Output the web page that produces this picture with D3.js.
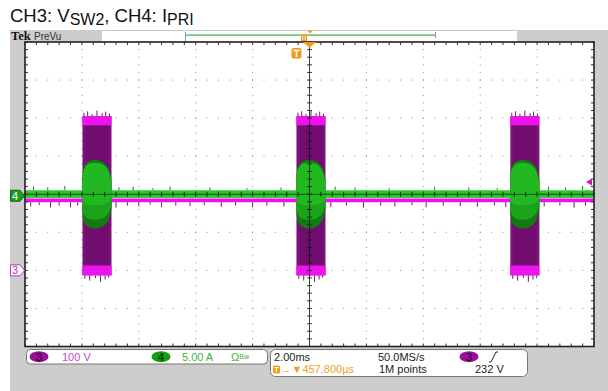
<!DOCTYPE html>
<html>
<head>
<meta charset="utf-8">
<script src="https://cdn.jsdelivr.net/npm/d3@7"></script>
<style>
  body { margin: 0; background: #fff; }
  svg { display: block; font-family: "Liberation Sans", Arial, sans-serif; }
</style>
</head>
<body>
<div id="scope"></div>
<script>
// CH3 = V_SW2 (100 V/div, ground 2 div below centre), CH4 = I_PRI (5 A/div, ground at centre)
// time base 2.00 ms/div, 10 div wide, trigger delay 457.8 us
var burstStart = [-7.98, -0.458, 7.06];        // ms
var burstLen = 1.02;                            // ms
var vHighBand = [381, 405];                     // V  switching top level
var vLowBand = [-13, 13];                       // V  switching bottom level
var vIdleBand = [179, 189];                     // V  idle mid level
var iIdleBand = [-0.48, 0.52];                  // A
var envPos = [0, 0.03, 0.1, 0.22, 0.38, 0.55, 0.7, 0.82, 0.92, 1];
var envAmp = [2.2, 3.0, 3.6, 4.0, 4.15, 4.1, 3.9, 3.5, 2.8, 1.6];   // A, current envelope in a burst
var vIdleSpikes = [[-9.8,168],[-9.5,172],[-9.1,165],[-8.8,170],[-8.4,166],[-8.15,171],
  [-6.8,165],[-6.4,170],[-6.0,168],[-5.6,173],[-5.2,166],[-4.7,170],[-4.2,169],[-3.7,172],
  [-3.1,167],[-2.6,171],[-2.0,166],[-1.5,170],[-0.9,168],[0.75,166],[1.3,171],[1.9,165],
  [2.5,170],[3.0,168],[3.6,172],[4.1,166],[4.7,170],[5.3,169],[5.9,167],[6.5,171],[6.9,166],
  [8.25,168],[8.8,171],[9.3,165],[9.7,170]];
var vTopSpikes = [[0.05,414],[0.18,418],[0.33,411],[0.5,420],[0.68,413],[0.8,417],[0.93,412]];  // [fraction of burst, V]
var vBotSpikes = [[0.08,-22],[0.25,-27],[0.45,-20],[0.62,-30],[0.78,-24],[0.9,-19]];
var iIdleSpikes = [[-9.7,1.0],[-9.2,0.9],[-8.6,1.1],[-6.7,0.9],[-6.2,1.0],[-5.5,0.8],[-4.9,1.0],
  [-3.5,0.9],[-2.2,0.8],[-1.0,0.9],[0.9,1.0],[1.6,0.9],[2.8,0.8],[4.4,1.0],[5.6,0.9],[6.6,0.8],
  [8.4,1.0],[9.0,0.9],[9.6,1.1]];
var trigLevel = 232;                            // V
var trigDelay = -0.4578;                        // ms
var timeDivs = [-10, -8, -6, -4, -2, 0, 2, 4, 6, 8, 10];
var voltDivs = [-200, -100, 0, 100, 200, 300, 400, 500, 600];

var W = 608, H = 391;
var box = {left: 25, right: 594, top: 42, bottom: 346.5};

var svg = d3.select("#scope").append("svg").attr("width", W).attr("height", H);

var x = d3.scaleLinear().domain([-10, 10]).range([box.left, box.right]);
var yV = d3.scaleLinear().domain([-200, 600]).range([box.bottom, box.top]);
var yI = d3.scaleLinear().domain([-20, 20]).range([box.bottom, box.top]);

// backgrounds
svg.append("rect").attr("width", W).attr("height", H).attr("fill", "#fff");
svg.append("rect").attr("x", 10).attr("y", 30).attr("width", W - 10).attr("height", H - 30).attr("fill", "#cdcdcd");
svg.append("rect").attr("x", box.left).attr("y", box.top).attr("width", box.right - box.left)
  .attr("height", box.bottom - box.top).attr("fill", "#fff");

// title
var title = svg.append("text").attr("x", 10).attr("y", 22).attr("font-size", "18.5px").attr("fill", "#111");
title.append("tspan").text("CH3: V");
title.append("tspan").attr("font-size", "16px").attr("dy", 3).text("SW2");
title.append("tspan").attr("dy", -3).text(", CH4: I");
title.append("tspan").attr("font-size", "16px").attr("dy", 3).text("PRI");

// header strip
svg.append("rect").attr("x", 102).attr("y", 30).attr("width", 415).attr("height", 11.5).attr("fill", "#fff");
svg.append("line").attr("x1", 102).attr("x2", 517).attr("y1", 30.5).attr("y2", 30.5).attr("stroke", "#c8c8c8");
svg.append("path").attr("d", "M185.5,32V41 M435.5,32V38").attr("stroke", "#999").attr("fill", "none");
svg.append("line").attr("x1", 186).attr("x2", 435).attr("y1", 35.2).attr("y2", 35.2)
  .attr("stroke", "#45b045").attr("stroke-width", 1.3);
svg.append("text").attr("x", 11).attr("y", 40).attr("font-family", "'Liberation Serif', serif")
  .attr("font-weight", "bold").attr("font-size", "12.5px").attr("fill", "#111").text("Tek");
svg.append("text").attr("x", 34).attr("y", 39.5).attr("font-size", "10px").attr("fill", "#333").text("PreVu");
svg.append("rect").attr("x", 301).attr("y", 34).attr("width", 6).attr("height", 7.5).attr("rx", 1.5).attr("fill", "#f59a1e");
svg.append("path").attr("d", "M302.8,35.5V40 M305.2,35.5V40").attr("stroke", "#fff").attr("stroke-width", 0.8);
svg.append("path").attr("d", "M307,30.5H313L310,33.5Z").attr("fill", "#f59a1e");

// grid dots
var grid = svg.append("g").attr("fill", "#8a8a8a");
voltDivs.slice(1, -1).forEach(function (v) {
  d3.range(-10, 10.001, 0.4).forEach(function (t) {
    grid.append("rect").attr("x", x(t) - 0.5).attr("y", yV(v) - 0.5).attr("width", 1).attr("height", 1);
  });
});
timeDivs.slice(1, -1).forEach(function (t) {
  d3.range(-200, 600.001, 20).forEach(function (v) {
    grid.append("rect").attr("x", x(t) - 0.5).attr("y", yV(v) - 0.5).attr("width", 1).attr("height", 1);
  });
});

// ---- CH3 trace ----
var ch3 = svg.append("g");
var idleGaps = [[-10, burstStart[0]]];
burstStart.forEach(function (b, i) {
  idleGaps.push([b + burstLen, i < burstStart.length - 1 ? burstStart[i + 1] : 10]);
});
ch3.selectAll(".vspike").data(vIdleSpikes).enter().append("line")
  .attr("x1", function (d) { return x(d[0]); }).attr("x2", function (d) { return x(d[0]); })
  .attr("y1", yV(vIdleBand[0])).attr("y2", function (d) { return yV(d[1]); })
  .attr("stroke", "#6a1a6a").attr("stroke-width", 1);
ch3.selectAll(".vidle").data(idleGaps).enter().append("rect")
  .attr("x", function (d) { return x(d[0]); }).attr("width", function (d) { return x(d[1]) - x(d[0]); })
  .attr("y", yV(vIdleBand[1])).attr("height", yV(vIdleBand[0]) - yV(vIdleBand[1]))
  .attr("fill", "#ee10ee");

burstStart.forEach(function (b) {
  var x0 = x(b), x1 = x(b + burstLen);
  vTopSpikes.forEach(function (s) {
    ch3.append("line").attr("x1", x0 + s[0] * (x1 - x0)).attr("x2", x0 + s[0] * (x1 - x0))
      .attr("y1", yV(vHighBand[1])).attr("y2", yV(s[1])).attr("stroke", "#6a1a6a");
  });
  vBotSpikes.forEach(function (s) {
    ch3.append("line").attr("x1", x0 + s[0] * (x1 - x0)).attr("x2", x0 + s[0] * (x1 - x0))
      .attr("y1", yV(vLowBand[0])).attr("y2", yV(s[1])).attr("stroke", "#6a1a6a");
  });
  ch3.append("rect").attr("x", x0).attr("width", x1 - x0)
    .attr("y", yV(vHighBand[1])).attr("height", yV(vLowBand[0]) - yV(vHighBand[1]))
    .attr("fill", "#7a1078");
  ch3.append("rect").attr("x", x0).attr("width", x1 - x0)
    .attr("y", yV(vHighBand[1])).attr("height", yV(vHighBand[0]) - yV(vHighBand[1]))
    .attr("fill", "#ee12ee");
  ch3.append("rect").attr("x", x0).attr("width", x1 - x0)
    .attr("y", yV(vLowBand[1])).attr("height", yV(vLowBand[0]) - yV(vLowBand[1]))
    .attr("fill", "#ee12ee");
  ch3.append("rect").attr("x", x0 + 3).attr("width", x1 - x0 - 6)
    .attr("y", yV(vHighBand[0])).attr("height", yV(vLowBand[1]) - yV(vHighBand[0]))
    .attr("fill", "#5e0a5c").attr("opacity", 0.35);
});

// ---- CH4 trace ----
var ch4 = svg.append("g");
ch4.selectAll(".ispike").data(iIdleSpikes).enter().append("line")
  .attr("x1", function (d) { return x(d[0]); }).attr("x2", function (d) { return x(d[0]); })
  .attr("y1", yI(iIdleBand[1])).attr("y2", function (d) { return yI(d[1]); })
  .attr("stroke", "#1c7a1c");
ch4.selectAll(".iidle").data(idleGaps).enter().append("rect")
  .attr("x", function (d) { return x(d[0]); }).attr("width", function (d) { return x(d[1]) - x(d[0]); })
  .attr("y", yI(iIdleBand[1])).attr("height", yI(iIdleBand[0]) - yI(iIdleBand[1]))
  .attr("fill", "#2ec42e");

var env = d3.area().curve(d3.curveMonotoneX);
burstStart.forEach(function (b) {
  var pts = envPos.map(function (p, i) { return [b + p * burstLen, envAmp[i]]; });
  ch4.append("path").datum(pts).attr("fill", "#127a12")
    .attr("d", env.x(function (d) { return x(d[0]); })
      .y0(function (d) { return yI(-d[1] - 0.35); }).y1(function (d) { return yI(d[1] + 0.35); }));
  ch4.append("path").datum(pts).attr("fill", "#22b822")
    .attr("d", env.x(function (d) { return x(d[0]); })
      .y0(function (d) { return yI(-d[1] * 0.8); }).y1(function (d) { return yI(d[1]); }));
  ch4.append("path").datum(pts).attr("fill", "#1a9a1a").attr("opacity", 0.7)
    .attr("d", env.x(function (d) { return x(d[0]); })
      .y0(function (d) { return yI(-d[1] * 0.8); }).y1(function (d) { return yI(-d[1] * 0.35); }));
});
ch4.append("line").attr("x1", x(-10)).attr("x2", x(10)).attr("y1", yI(0)).attr("y2", yI(0))
  .attr("stroke", "#0c5a0c").attr("stroke-width", 1);

// centre cross with ticks
var cross = svg.append("g").attr("stroke", "#111").attr("stroke-width", 1).attr("opacity", 0.8);
cross.append("line").attr("x1", x(0)).attr("x2", x(0)).attr("y1", box.top).attr("y2", box.bottom);
d3.range(-200, 600.001, 20).forEach(function (v) {
  cross.append("line").attr("x1", x(0) - 2.5).attr("x2", x(0) + 2.5).attr("y1", yV(v)).attr("y2", yV(v));
});
d3.range(-10, 10.001, 0.4).forEach(function (t) {
  cross.append("line").attr("x1", x(t)).attr("x2", x(t)).attr("y1", yI(0) - 2.5).attr("y2", yI(0) + 2.5);
});

// border ticks and frame
var frame = svg.append("g").attr("stroke", "#333").attr("stroke-width", 1);
d3.range(-10, 10.001, 0.4).forEach(function (t) {
  frame.append("line").attr("x1", x(t)).attr("x2", x(t)).attr("y1", box.top).attr("y2", box.top + 3);
  frame.append("line").attr("x1", x(t)).attr("x2", x(t)).attr("y1", box.bottom).attr("y2", box.bottom - 3);
});
d3.range(-200, 600.001, 20).forEach(function (v) {
  frame.append("line").attr("x1", box.left).attr("x2", box.left + 3).attr("y1", yV(v)).attr("y2", yV(v));
  frame.append("line").attr("x1", box.right).attr("x2", box.right - 3).attr("y1", yV(v)).attr("y2", yV(v));
});
svg.append("rect").attr("x", box.left).attr("y", box.top).attr("width", box.right - box.left)
  .attr("height", box.bottom - box.top).attr("fill", "none").attr("stroke", "#222").attr("stroke-width", 1.6);

// trigger markers
var tx = x(trigDelay);
svg.append("path").attr("d", "M" + (x(0) - 7) + "," + box.top + "H" + (x(0) + 7) + "L" + x(0) + "," + (box.top + 5.5) + "Z")
  .attr("fill", "#f59a1e");
svg.append("rect").attr("x", tx - 5).attr("y", 48).attr("width", 10).attr("height", 10.5).attr("rx", 2).attr("fill", "#f59a1e");
svg.append("path").attr("d", "M" + (tx - 3) + ",50.5H" + (tx + 3) + "M" + tx + ",50.5V57").attr("stroke", "#fff").attr("stroke-width", 1.5);
svg.append("path").attr("d", "M" + (box.right - 2) + "," + (yV(trigLevel) - 3.5) + "V" + (yV(trigLevel) + 3.5) + "L" + (box.right - 8) + "," + yV(trigLevel) + "Z")
  .attr("fill", "#c020c0");

// channel ground tags
function tag(yc, fill, stroke, txtColor, label) {
  svg.append("path").attr("d", "M10.5," + (yc - 5.5) + "H20L24.5," + yc + "L20," + (yc + 5.5) + "H10.5Z")
    .attr("fill", fill).attr("stroke", stroke).attr("stroke-width", 1);
  svg.append("text").attr("x", 15).attr("y", yc + 4).attr("text-anchor", "middle").attr("font-size", "11px")
    .attr("fill", txtColor).text(label);
}
tag(yI(0) + 1.5, "#1e9e1e", "#0d6a0d", "#fff", "4");
tag(yV(0), "#fff", "#c030c0", "#c030c0", "3");

// bottom readout panels
svg.append("rect").attr("x", 26.5).attr("y", 349.5).attr("width", 241).attr("height", 14.5).attr("rx", 4)
  .attr("fill", "#fff").attr("stroke", "#777");
svg.append("rect").attr("x", 270.5).attr("y", 349.5).attr("width", 257).attr("height", 27).attr("rx", 5)
  .attr("fill", "#fff").attr("stroke", "#777");
function badge(cx, fill, label) {
  svg.append("ellipse").attr("cx", cx).attr("cy", 356.7).attr("rx", 9.5).attr("ry", 5.5).attr("fill", fill);
  svg.append("text").attr("x", cx).attr("y", 360.8).attr("text-anchor", "middle").attr("font-size", "11px")
    .attr("fill", "#111").text(label);
}
badge(39, "#9a0f9a", "3");
badge(161, "#12a012", "4");
badge(469, "#9a0f9a", "3");
function txt(xp, yp, color, s) {
  return svg.append("text").attr("x", xp).attr("y", yp).attr("font-size", "11px").attr("fill", color).text(s);
}
txt(62, 361, "#c84ac8", "100 V");
txt(182, 361, "#3cb43c", "5.00 A");
var bw = txt(231, 361, "#3cb43c", "Ω");
bw.append("tspan").attr("font-size", "7px").attr("dy", -2).text("Bw");
txt(274, 361, "#222", "2.00ms");
txt(378, 361, "#222", "50.0MS/s");
txt(379, 373, "#222", "1M points");
txt(475, 373, "#222", "232 V");
svg.append("path").attr("d", "M489,362H491L496,352H498").attr("stroke", "#222").attr("fill", "none");
svg.append("rect").attr("x", 273).attr("y", 365.5).attr("width", 7).attr("height", 8).attr("rx", 1.5).attr("fill", "#f59a1e");
svg.append("path").attr("d", "M274.5,367.5H278.5M276.5,367.5V372").attr("stroke", "#fff").attr("stroke-width", 1);
txt(280.5, 373, "#f0a024", "\u2192\u25BC" + Math.abs(trigDelay * 1000).toFixed(3) + "\u00B5s");
</script>
</body>
</html>
